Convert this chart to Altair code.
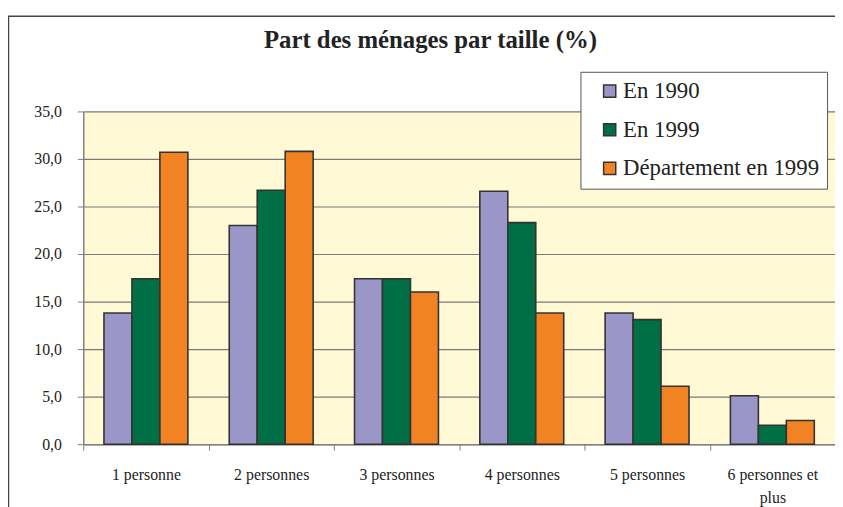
import altair as alt
import pandas as pd

categories = ["1 personne", "2 personnes", "3 personnes", "4 personnes",
              "5 personnes", "6 personnes et plus"]
series = ["En 1990", "En 1999", "Département en 1999"]
v_1990 = [13.8, 23.0, 17.4, 26.6, 13.8, 5.1]
v_1999 = [17.4, 26.7, 17.4, 23.3, 13.1, 2.0]
v_dept = [30.7, 30.8, 16.0, 13.8, 6.1, 2.5]
colors = ["#9B96C8", "#006F45", "#F28322"]
y_ticks = [0, 5, 10, 15, 20, 25, 30, 35]
title_text = "Part des ménages par taille (%)"

rows = []
for s, vals in zip(series, [v_1990, v_1999, v_dept]):
    for c, v in zip(categories, vals):
        rows.append({"cat": c, "serie": s, "val": v})
df = pd.DataFrame(rows)

SERIF = "Liberation Serif, Times New Roman, serif"
W, H = 759, 336

bars = alt.Chart(df).mark_bar(stroke="#333333", strokeWidth=1.6).encode(
    x=alt.X("cat:N", sort=categories, title=None,
            scale=alt.Scale(paddingInner=0, paddingOuter=0),
            axis=alt.Axis(labelAngle=0, tickBand="extent", tickSize=6,
                          tickColor="#808080", domainColor="#808080",
                          domainWidth=1.5, labelFont=SERIF, labelFontSize=16,
                          labelColor="#222222", labelPadding=17,
                          labelLineHeight=23,
                          labelExpr="datum.label == '6 personnes et plus' ? ['6 personnes et', 'plus'] : datum.label")),
    xOffset=alt.XOffset("serie:N", sort=series,
                        scale=alt.Scale(paddingInner=0, paddingOuter=0.74)),
    y=alt.Y("val:Q", title=None,
            scale=alt.Scale(domain=[0, 35], nice=False),
            axis=alt.Axis(values=y_ticks, tickSize=6, tickColor="#808080",
                          domainColor="#808080", domainWidth=1.5,
                          gridColor="#7a7a7a", gridWidth=1.2,
                          labelFont=SERIF, labelFontSize=16, labelColor="#222222",
                          labelPadding=16,
                          labelExpr="replace(format(datum.value, '.1f'), '.', ',')")),
    color=alt.Color("serie:N", sort=series,
                    scale=alt.Scale(domain=series, range=colors),
                    legend=alt.Legend(title=None, orient="none",
                                      legendX=502, legendY=-40,
                                      fillColor="#ffffff", strokeColor="#555555",
                                      padding=8, symbolOffset=10,
                                      symbolType="square", symbolSize=150,
                                      symbolStrokeColor="#333333",
                                      symbolStrokeWidth=1.5,
                                      labelFont=SERIF, labelFontSize=23,
                                      labelColor="#222222", labelOffset=2,
                                      rowPadding=15, labelLimit=400)),
)

single = alt.Data(values=[{"t": title_text}])
frame_left = alt.Chart(single).mark_rule(color="#444444", strokeWidth=1.5).encode(
    x=alt.value(-75.5), y=alt.value(-96), y2=alt.value(H + 70))
frame_top = alt.Chart(single).mark_rule(color="#444444", strokeWidth=1.5).encode(
    x=alt.value(-76), x2=alt.value(W + 10), y=alt.value(-96))
title = alt.Chart(single).mark_text(font=SERIF, fontSize=25, fontWeight="bold",
                                     color="#222222", align="center",
                                     baseline="middle").encode(
    text="t:N", x=alt.value(W / 2 - 29), y=alt.value(-72))

chart = alt.layer(frame_left, frame_top, title, bars).properties(
    width=W, height=H,
    padding={"left": 76, "top": 102, "right": 0, "bottom": 61},
    autosize=alt.AutoSizeParams(type="none"),
    background="#ffffff",
).configure_view(fill="#FFF9D6", stroke=None)

chart.save("out.html", embed_options={"renderer": "svg", "actions": False})
